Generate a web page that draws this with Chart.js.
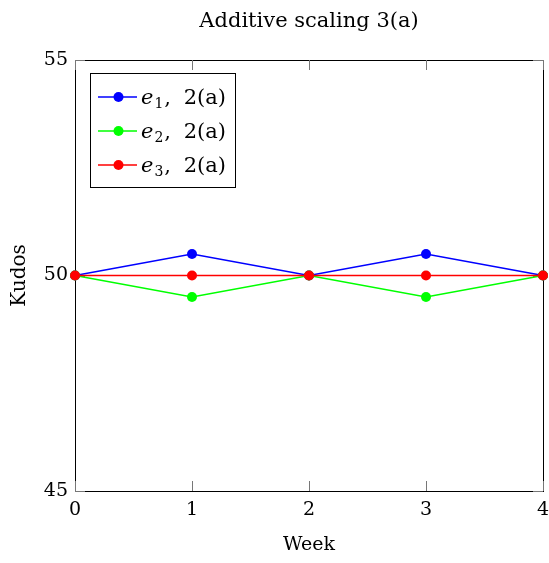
<!DOCTYPE html>
<html lang="en">
<head>
  <meta charset="UTF-8" />
  <title>Additive scaling 3(a)</title>
  <script src="https://cdn.jsdelivr.net/npm/chart.js"></script>
  <style>
    html, body { margin: 0; padding: 0; background: #fff; }
  </style>
</head>
<body>
  <canvas id="kudosChart" width="549" height="563"></canvas>

  <script>
    const weeks = [0, 1, 2, 3, 4];
    const e1Kudos = [50, 50.5, 50, 50.5, 50];
    const e2Kudos = [50, 49.5, 50, 49.5, 50];
    const e3Kudos = [50, 50, 50, 50, 50];
    const seriesLabels = ['e1, 2(a)', 'e2, 2(a)', 'e3, 2(a)'];
    const seriesColors = ['#0000ff', '#00ff00', '#ff0000'];
    const yTicks = [45, 50, 55];
    const chartTitle = 'Additive scaling 3(a)';

    const serif = '"DejaVu Serif", "Liberation Serif", serif';
    const TICK_LEN = 10;

    // frame on all four sides plus inward tick marks
    const frameAndTicks = {
      id: 'frameAndTicks',
      beforeDatasetsDraw(chart) {
        const { ctx, chartArea: a, scales } = chart;
        ctx.save();
        ctx.strokeStyle = '#000';
        ctx.lineWidth = 1;
        ctx.strokeRect(Math.round(a.left) + 0.5, Math.round(a.top) + 0.5,
          Math.round(a.right - a.left), Math.round(a.bottom - a.top));
        ctx.strokeStyle = '#777';
        ctx.beginPath();
        scales.x.ticks.forEach((t, i) => {
          const px = Math.round(scales.x.getPixelForTick(i)) + 0.5;
          ctx.moveTo(px, a.bottom); ctx.lineTo(px, a.bottom - TICK_LEN);
          ctx.moveTo(px, a.top); ctx.lineTo(px, a.top + TICK_LEN);
        });
        scales.y.ticks.forEach((t, i) => {
          const py = Math.round(scales.y.getPixelForTick(i)) + 0.5;
          ctx.moveTo(a.left, py); ctx.lineTo(a.left + TICK_LEN, py);
          ctx.moveTo(a.right, py); ctx.lineTo(a.right - TICK_LEN, py);
        });
        ctx.stroke();
        ctx.restore();
      },
      afterDraw(chart) {
        const { ctx, chartArea: a } = chart;
        ctx.save();
        ctx.fillStyle = '#000';
        ctx.font = '21px ' + serif;
        ctx.textAlign = 'center';
        ctx.textBaseline = 'middle';
        ctx.fillText(chartTitle, (a.left + a.right) / 2, 22);
        ctx.restore();
      }
    };

    // boxed legend in the top-left corner, e with subscript index
    const boxedLegend = {
      id: 'boxedLegend',
      afterDraw(chart) {
        const { ctx } = chart;
        const box = { x: 90.5, y: 73.5, w: 145, h: 114 };
        ctx.save();
        ctx.fillStyle = '#fff';
        ctx.fillRect(box.x, box.y, box.w, box.h);
        ctx.strokeStyle = '#000';
        ctx.lineWidth = 1;
        ctx.strokeRect(box.x, box.y, box.w, box.h);

        chart.data.datasets.slice().sort((p, q) => p.legendIndex - q.legendIndex).forEach((ds, i) => {
          const cy = 97 + i * 34;
          ctx.strokeStyle = ds.borderColor;
          ctx.lineWidth = 1.4;
          ctx.beginPath();
          ctx.moveTo(98, cy); ctx.lineTo(137, cy);
          ctx.stroke();
          ctx.fillStyle = ds.backgroundColor;
          ctx.beginPath();
          ctx.arc(118.5, cy, 5, 0, Math.PI * 2);
          ctx.fill();

          const label = ds.label;
          let x = 141;
          const base = cy + 7;
          ctx.fillStyle = '#000';
          ctx.textAlign = 'left';
          ctx.textBaseline = 'alphabetic';
          ctx.font = 'italic 21px ' + serif;
          ctx.fillText(label[0], x, base);
          x += ctx.measureText(label[0]).width + 1;
          ctx.font = '14px ' + serif;
          ctx.fillText(label[1], x, base + 4);
          x += ctx.measureText(label[1]).width + 1;
          ctx.font = '21px ' + serif;
          ctx.fillText(',', x, base);
          x += ctx.measureText(',').width + 6;
          ctx.fillText(label.slice(3), x, base);
        });
        ctx.restore();
      }
    };

    function makeSeries(idx, values, order) {
      return {
        label: seriesLabels[idx],
        legendIndex: idx,
        data: values,
        borderColor: seriesColors[idx],
        backgroundColor: seriesColors[idx],
        borderWidth: 1.4,
        pointRadius: 5,
        pointHoverRadius: 5,
        pointBorderWidth: 0,
        tension: 0,
        clip: false,
        order: order
      };
    }

    const ctx = document.getElementById('kudosChart').getContext('2d');
    new Chart(ctx, {
      type: 'line',
      data: {
        labels: weeks,
        datasets: [
          makeSeries(0, e1Kudos, 2),
          makeSeries(1, e2Kudos, 1),
          makeSeries(2, e3Kudos, 0)
        ]
      },
      options: {
        responsive: false,
        devicePixelRatio: 1,
        animation: false,
        layout: { padding: { left: 0, top: 60, right: 6, bottom: 0 } },
        plugins: {
          legend: { display: false },
          title: { display: false },
          tooltip: { enabled: false }
        },
        scales: {
          x: {
            type: 'category',
            offset: false,
            grid: { display: false, drawTicks: false },
            border: { display: false },
            ticks: {
              color: '#000',
              padding: 8,
              maxRotation: 0,
              font: { family: serif, size: 19 }
            },
            title: {
              display: true,
              text: 'Week',
              color: '#000',
              font: { family: serif, size: 19 },
              padding: { top: 0, bottom: 7 }
            },
            afterFit(scale) {
              scale.height = 72;
              scale.paddingLeft = 0;
              scale.paddingRight = 0;
            }
          },
          y: {
            min: 45,
            max: 55,
            afterBuildTicks(scale) { scale.ticks = yTicks.map(v => ({ value: v })); },
            grid: { display: false, drawTicks: false },
            border: { display: false },
            ticks: {
              color: '#000',
              padding: 7,
              font: { family: serif, size: 19 }
            },
            title: {
              display: true,
              text: 'Kudos',
              color: '#000',
              font: { family: serif, size: 20 },
              padding: { top: 8, bottom: 0 }
            },
            afterFit(scale) {
              scale.width = 75;
              scale.paddingTop = 0;
              scale.paddingBottom = 0;
            }
          }
        }
      },
      plugins: [frameAndTicks, boxedLegend]
    });
  </script>
</body>
</html>
